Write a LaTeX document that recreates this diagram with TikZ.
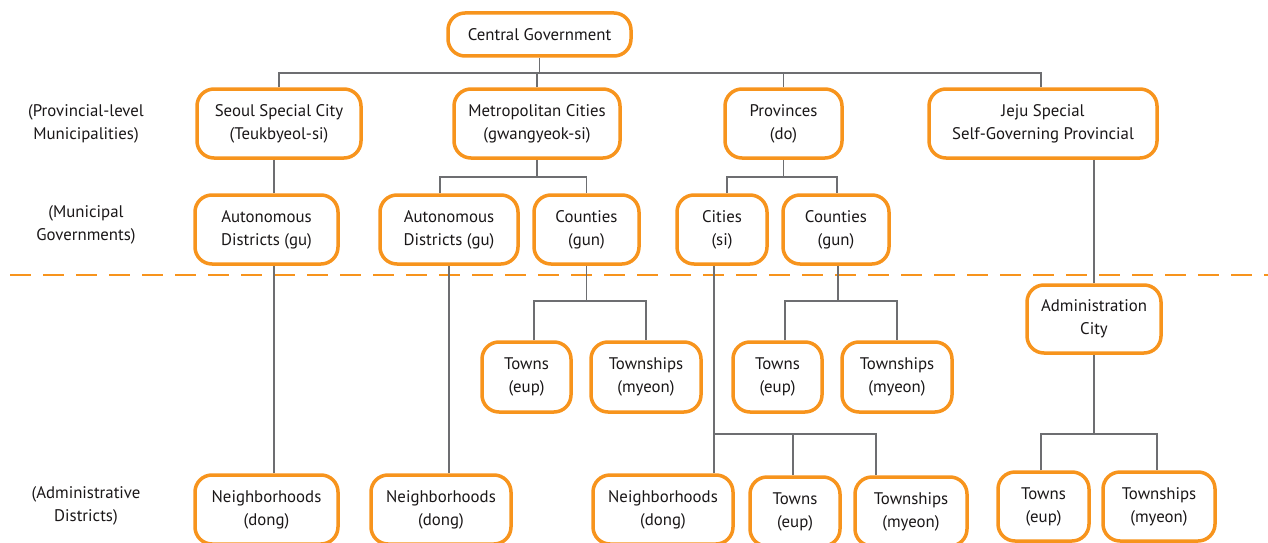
\documentclass[tikz,border=0pt]{standalone}
\usepackage{fontspec}
\setmainfont{PT Sans}
\definecolor{borange}{HTML}{F7941D}
\definecolor{lgray}{HTML}{6D6E71}
\definecolor{tcol}{HTML}{1A1718}
\begin{document}
\begin{tikzpicture}[x=1pt,y=-1pt,
  box/.style={draw=borange, line width=3.5pt, fill=white, rounded corners=17pt,
    align=center, text=tcol, inner sep=0pt,
    font=\fontsize{16.8}{23}\selectfont},
  lvl/.style={align=center, text=tcol, font=\fontsize{16.8}{23}\selectfont},
  conn/.style={draw=lgray, line width=1.9pt},
  divider/.style={draw=borange, line width=1.8pt, dash pattern=on 21pt off 12pt}]
\useasboundingbox (0,0) rectangle (1268,543);
\clip (0,0) rectangle (1268,543);
% divider
\coordinate (dl) at (10,275);
\coordinate (dr) at (1268,275);
\draw[divider] (dl) -- (dr);
% bus levels
\coordinate (b1) at (0,73);
\coordinate (b2) at (0,177);
\coordinate (b3) at (0,301);
\coordinate (b4) at (0,434);
% nodes
\node[box, minimum width=183pt, minimum height=43pt] (cg) at (539.5,34.5) {Central Government};
\node[box, minimum width=164pt, minimum height=69pt] (seoul) at (279,123.5) {Seoul Special City\\(Teukbyeol-si)};
\node[box, minimum width=166pt, minimum height=69pt] (metro) at (537,123.5) {Metropolitan Cities\\(gwangyeok-si)};
\node[box, minimum width=117pt, minimum height=69pt] (prov) at (783.5,123.5) {Provinces\\(do)};
\node[box, minimum width=228pt, minimum height=69pt] (jeju) at (1043,123.5) {Jeju Special\\Self-Governing Provincial};
\node[box, minimum width=143pt, minimum height=69pt] (sad) at (266.5,229.5) {Autonomous\\Districts (gu)};
\node[box, minimum width=138pt, minimum height=69pt] (mad) at (449,229.5) {Autonomous\\Districts (gu)};
\node[box, minimum width=105pt, minimum height=69pt] (mcty) at (586.5,229.5) {Counties\\(gun)};
\node[box, minimum width=90pt, minimum height=69pt] (cities) at (722,229.5) {Cities\\(si)};
\node[box, minimum width=106pt, minimum height=69pt] (pcty) at (836,229.5) {Counties\\(gun)};
\node[box, minimum width=134pt, minimum height=68pt] (admin) at (1094,319) {Administration\\City};
\node[box, minimum width=89pt, minimum height=70pt] (t1) at (526.5,377) {Towns\\(eup)};
\node[box, minimum width=110pt, minimum height=70pt] (tw1) at (646,377) {Townships\\(myeon)};
\node[box, minimum width=89pt, minimum height=70pt] (t2) at (777.5,377) {Towns\\(eup)};
\node[box, minimum width=110pt, minimum height=70pt] (tw2) at (897,377) {Townships\\(myeon)};
\node[box, minimum width=143pt, minimum height=69pt] (n1) at (266.5,509.5) {Neighborhoods\\(dong)};
\node[box, minimum width=140pt, minimum height=69pt] (n2) at (441,509.5) {Neighborhoods\\(dong)};
\node[box, minimum width=140pt, minimum height=69pt] (n3) at (663,509.5) {Neighborhoods\\(dong)};
\node[box, minimum width=90pt, minimum height=69pt] (t3) at (795,511.5) {Towns\\(eup)};
\node[box, minimum width=112pt, minimum height=69pt] (tw3) at (911,511.5) {Townships\\(myeon)};
\node[box, minimum width=91pt, minimum height=69pt] (t4) at (1043.5,506.5) {Towns\\(eup)};
\node[box, minimum width=112pt, minimum height=69pt] (tw4) at (1159,506.5) {Townships\\(myeon)};
% level labels
\node[lvl] (l1) at (86,123.5) {(Provincial-level\\Municipalities)};
\node[lvl] (l2) at (86,224.5) {(Municipal\\Governments)};
\node[lvl] (l3) at (86,505.5) {(Administrative\\Districts)};
% connectors
\begin{scope}[conn]
\draw (cg.south) -- (cg.south |- b1);
\draw (seoul.north) |- ([xshift=-2pt]jeju.north |- b1) -- ([xshift=-2pt]jeju.north);
\draw (metro.north) -- (metro.north |- b1);
\draw (prov.north) -- (prov.north |- b1);
\draw ([xshift=-5pt]seoul.south) -- ([xshift=7.5pt]sad.north);
\draw ([xshift=7.5pt]sad.south) -- ([xshift=7.5pt]n1.north);
\draw (metro.south) -- (metro.south |- b2);
\draw ([xshift=-9pt]mad.north) |- (mcty.north |- b2) -- (mcty.north);
\draw (mad.south) -- (mad.south |- n2.north);
\draw (mcty.south) -- (mcty.south |- b3);
\draw ([xshift=7.5pt]t1.north) |- (tw1.north |- b3) -- (tw1.north);
\draw (prov.south) -- (prov.south |- b2);
\draw ([xshift=5pt]cities.north) |- ([xshift=1pt]pcty.north |- b2) -- ([xshift=1pt]pcty.north);
\draw ([xshift=-8pt]cities.south) -- ([xshift=-8pt]cities.south |- n3.north);
\draw ([xshift=-8pt]cities.south |- b4) -| ([xshift=-35pt]tw3.north);
\draw ([xshift=-2pt]t3.north) -- ([xshift=-2pt]t3.north |- b4);
\draw ([xshift=2pt]pcty.south) -- ([xshift=2pt]pcty.south |- b3);
\draw ([xshift=7.5pt]t2.north) |- (tw2.north |- b3) -- (tw2.north);
\draw ([xshift=51pt]jeju.south) -- (admin.north);
\draw (admin.south) -- (admin.south |- b4);
\draw ([xshift=-2.5pt]t4.north) |- ([xshift=-2pt]tw4.north |- b4) -- ([xshift=-2pt]tw4.north);
\end{scope}
\end{tikzpicture}
\end{document}
